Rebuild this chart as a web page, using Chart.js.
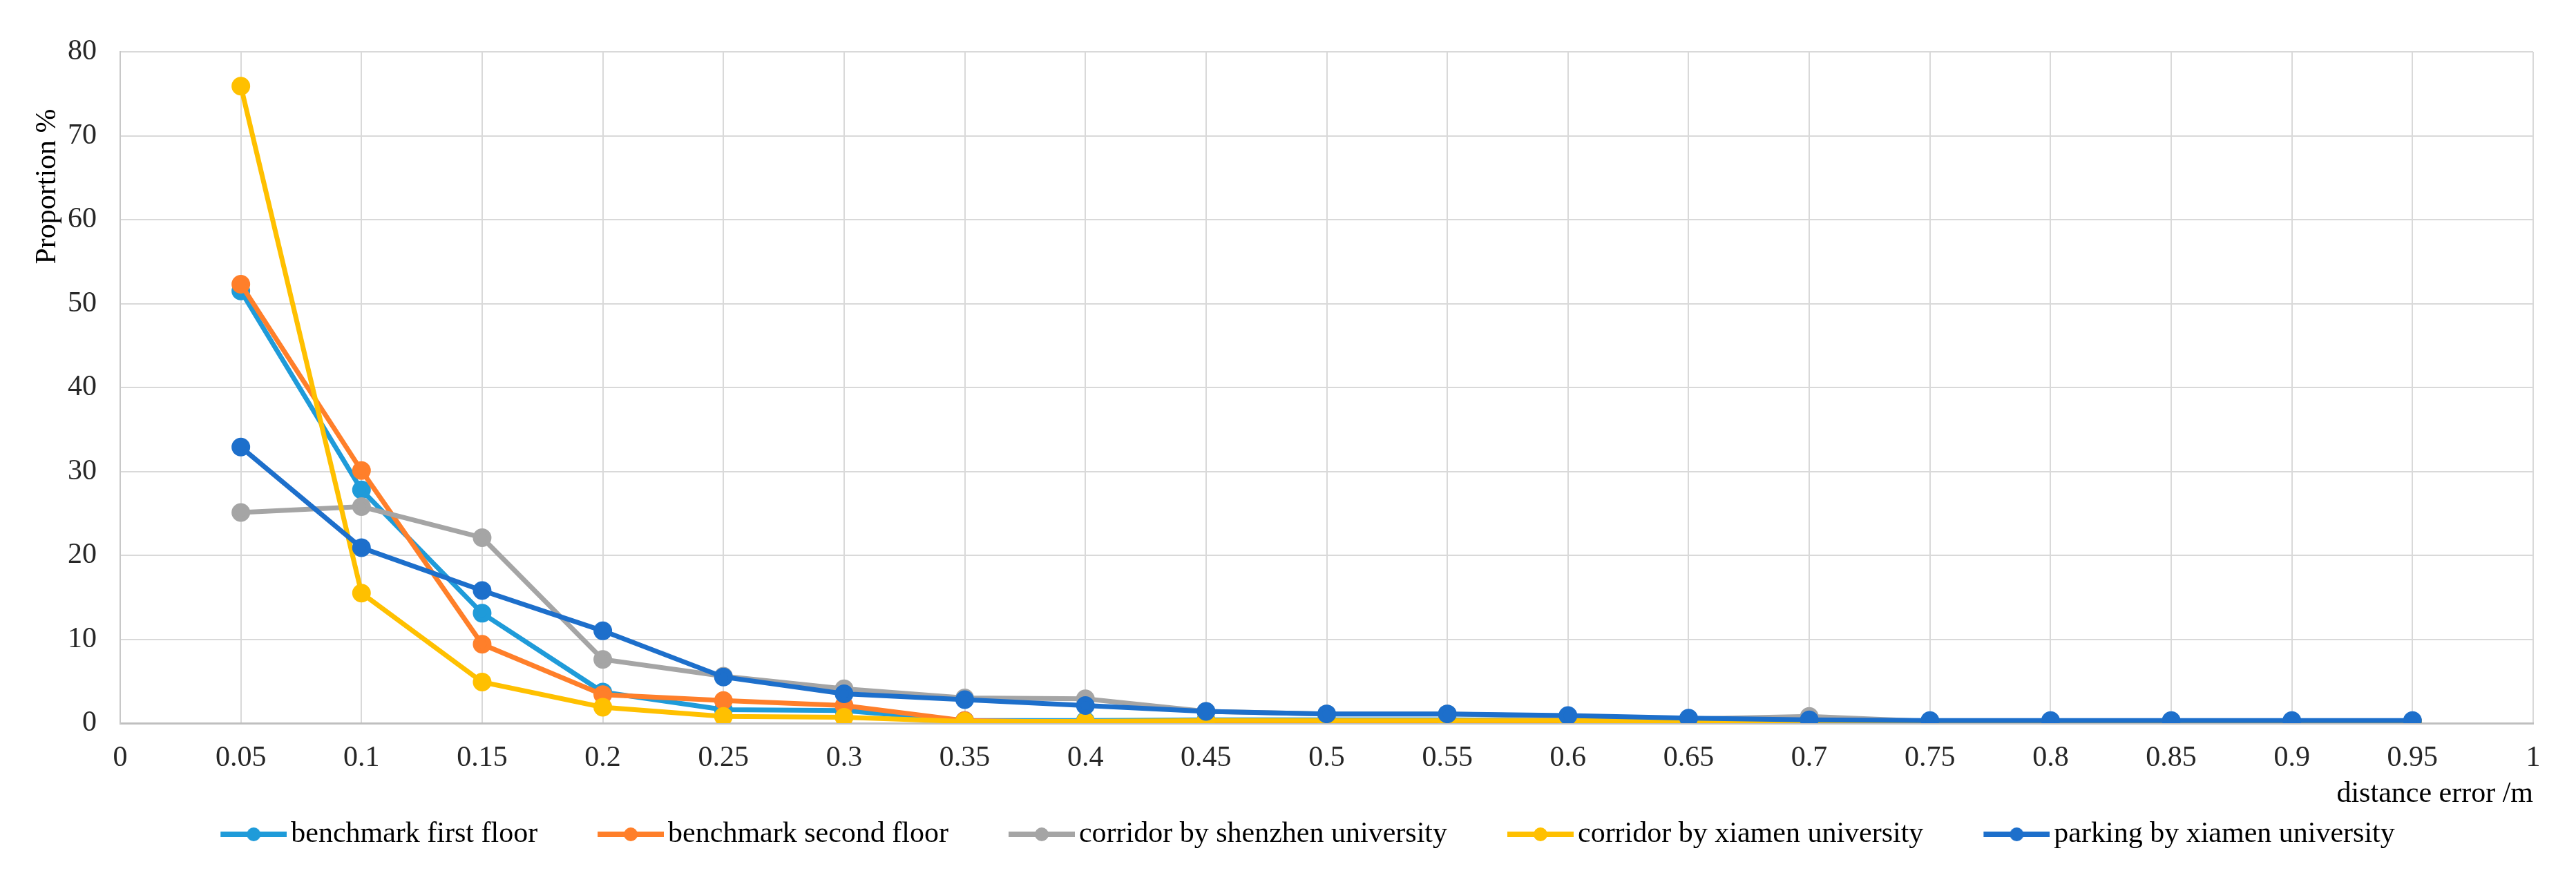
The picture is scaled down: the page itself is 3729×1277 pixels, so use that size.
<!DOCTYPE html>
<html>
<head>
<meta charset="utf-8">
<script src="https://cdn.jsdelivr.net/npm/chart.js@4.4.1/dist/chart.umd.min.js"></script>
<style>
  html, body { margin: 0; padding: 0; background: #fff; }
  #wrap { width: 3729px; height: 1277px; position: relative; }
</style>
</head>
<body>
<div id="wrap"><canvas id="errorChart"></canvas></div>
<script>
// --- DATA ---
const distances = [0.05, 0.1, 0.15, 0.2, 0.25, 0.3, 0.35, 0.4, 0.45, 0.5,
                   0.55, 0.6, 0.65, 0.7, 0.75, 0.8, 0.85, 0.9, 0.95];

const seriesNames = [
    'benchmark first floor',
    'benchmark second floor',
    'corridor by shenzhen university',
    'corridor by xiamen university',
    'parking by xiamen university'
];

const firstFloor    = [51.5, 27.8, 13.1, 3.7, 1.6, 1.5, 0.3, 0.3, 0.4, 0.4, 0.4, 0.3, 0.2, 0.2, 0.2, 0.2, 0.2, 0.2, 0.2];
const secondFloor   = [52.3, 30.1, 9.4, 3.4, 2.7, 2.1, 0.3, 0.1, 0.1, 0.1, 0.1, 0.1, 0.1, 0.1, 0.1, 0.1, 0.1, 0.1, 0.1];
const shenzhenHall  = [25.1, 25.8, 22.1, 7.6, 5.6, 4.1, 3.0, 2.9, 1.4, 1.1, 1.1, 0.8, 0.5, 0.8, 0.2, 0.2, 0.2, 0.2, 0.2];
const xiamenHall    = [75.9, 15.5, 4.9, 1.9, 0.8, 0.7, 0.2, 0.2, 0.3, 0.3, 0.3, 0.3, 0.2, 0.2, 0.2, 0.2, 0.2, 0.2, 0.2];
const xiamenParking = [32.9, 20.9, 15.8, 11.0, 5.5, 3.5, 2.8, 2.1, 1.4, 1.1, 1.1, 0.9, 0.6, 0.4, 0.3, 0.3, 0.3, 0.3, 0.3];

const xTickValues = [0, 0.05, 0.1, 0.15, 0.2, 0.25, 0.3, 0.35, 0.4, 0.45, 0.5,
                     0.55, 0.6, 0.65, 0.7, 0.75, 0.8, 0.85, 0.9, 0.95, 1];
const xTickLabels = ['0', '0.05', '0.1', '0.15', '0.2', '0.25', '0.3', '0.35', '0.4', '0.45', '0.5',
                     '0.55', '0.6', '0.65', '0.7', '0.75', '0.8', '0.85', '0.9', '0.95', '1'];
const yTickValues = [0, 10, 20, 30, 40, 50, 60, 70, 80];

const xTitle = 'distance error /m';
const yTitle = 'Proportion %';

// --- STYLE ---
const lineColors = ['#1F9BD9', '#FF7F2A', '#A5A5A5', '#FFC000', '#1D6FCB'];
const serif = "'Liberation Serif', 'Times New Roman', serif";
const FONT_SIZE = 42;

// legend symbol: a short line with a dot, with transparent room on the left for spacing
function legendSymbol(color) {
    const c = document.createElement('canvas');
    c.width = 190; c.height = 24;
    const g = c.getContext('2d');
    g.strokeStyle = color;
    g.lineWidth = 8;
    g.beginPath();
    g.moveTo(94, 12);
    g.lineTo(190, 12);
    g.stroke();
    g.fillStyle = color;
    g.beginPath();
    g.arc(142, 12, 10, 0, Math.PI * 2);
    g.fill();
    return c;
}

// The y title in the original sits near the top of the axis, not centred
const yTitlePlugin = {
    id: 'yTitle',
    afterDraw(chart) {
        const ctx = chart.ctx;
        ctx.save();
        ctx.translate(69, 270);
        ctx.rotate(-Math.PI / 2);
        ctx.font = `${FONT_SIZE}px ${serif}`;
        ctx.fillStyle = '#000';
        ctx.textAlign = 'center';
        ctx.textBaseline = 'middle';
        ctx.fillText(yTitle, 0, 0);
        ctx.restore();
    }
};

const allSeries = [firstFloor, secondFloor, shenzhenHall, xiamenHall, xiamenParking];

const datasets = allSeries.map((vals, i) => ({
    label: seriesNames[i],
    data: vals.map((v, j) => ({ x: distances[j], y: v })),
    borderColor: lineColors[i],
    backgroundColor: lineColors[i],
    pointBackgroundColor: lineColors[i],
    pointBorderColor: lineColors[i],
    borderWidth: 7,
    pointRadius: 10,
    pointHoverRadius: 10,
    tension: 0,
    order: allSeries.length - i // later series drawn on top, like the original
}));

new Chart(document.getElementById('errorChart'), {
    type: 'line',
    data: { datasets },
    plugins: [yTitlePlugin],
    options: {
        responsive: true,
        maintainAspectRatio: false,
        animation: false,
        devicePixelRatio: 1,
        layout: { padding: { left: 40, right: 62, top: 75, bottom: 38 } },
        plugins: {
            tooltip: { enabled: false },
            legend: {
                position: 'bottom',
                labels: {
                    usePointStyle: true,
                    pointStyleWidth: 160,
                    padding: 8,
                    color: '#000',
                    font: { family: serif, size: FONT_SIZE },
                    sort: (a, b) => a.datasetIndex - b.datasetIndex,
                    generateLabels: (chart) => {
                        const items = Chart.defaults.plugins.legend.labels.generateLabels(chart);
                        items.forEach(it => { it.pointStyle = legendSymbol(lineColors[it.datasetIndex]); });
                        return items;
                    }
                }
            }
        },
        scales: {
            x: {
                type: 'linear',
                min: 0,
                max: 1,
                afterBuildTicks: (s) => { s.ticks = xTickValues.map(v => ({ value: v })); },
                afterFit: (s) => { s.height = 132; },
                ticks: {
                    autoSkip: false,
                    maxRotation: 0,
                    padding: 26,
                    color: '#262626',
                    font: { family: serif, size: FONT_SIZE },
                    callback: (v, idx) => xTickLabels[idx]
                },
                grid: { color: '#d9d9d9', lineWidth: 2, drawTicks: false },
                border: { color: '#bfbfbf', width: 3 },
                title: {
                    display: true,
                    text: xTitle,
                    align: 'end',
                    color: '#000',
                    padding: { top: 0, bottom: 4 },
                    font: { family: serif, size: FONT_SIZE }
                }
            },
            y: {
                min: 0,
                max: 80,
                afterBuildTicks: (s) => { s.ticks = yTickValues.map(v => ({ value: v })); },
                afterFit: (s) => { s.width = 134; },
                ticks: {
                    padding: 34,
                    color: '#262626',
                    font: { family: serif, size: FONT_SIZE }
                },
                grid: { color: '#d9d9d9', lineWidth: 2, drawTicks: false },
                border: { color: '#c8c8c8', width: 2 },
                title: { display: false }
            }
        }
    }
});
</script>
</body>
</html>
